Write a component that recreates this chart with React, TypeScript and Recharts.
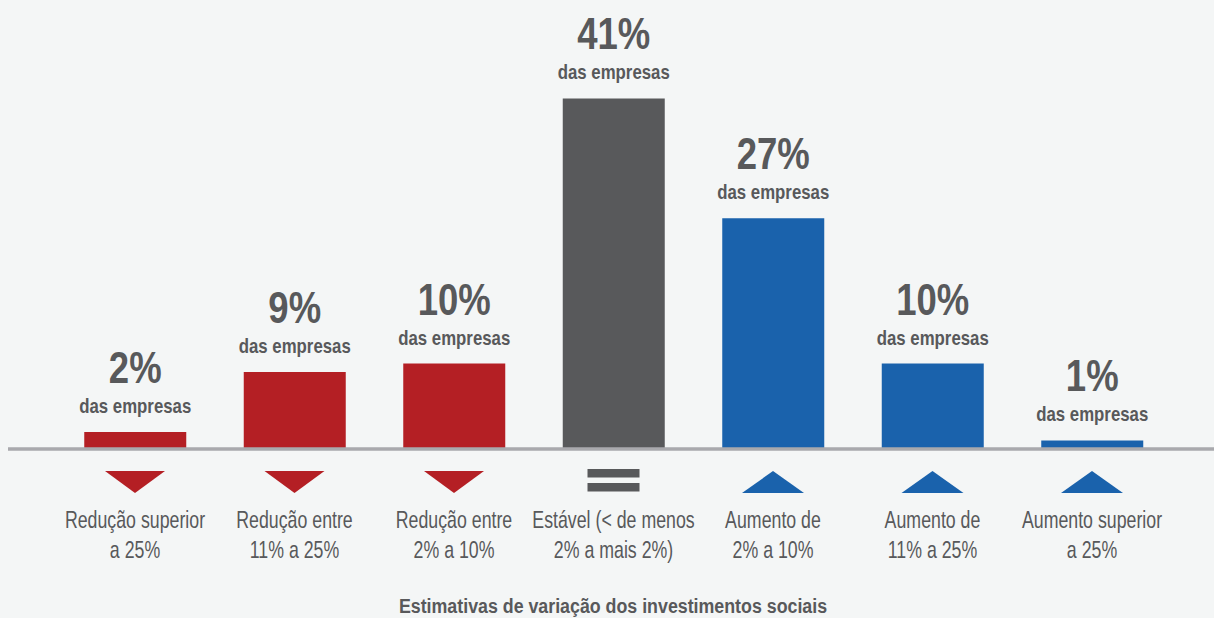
import React from 'react';
import { BarChart, Bar, XAxis, YAxis, Cell, LabelList } from 'recharts';

const categoryLine1 = ['Redução superior', 'Redução entre', 'Redução entre', 'Estável (< de menos', 'Aumento de', 'Aumento de', 'Aumento superior'];
const categoryLine2 = ['a 25%', '11% a 25%', '2% a 10%', '2% a mais 2%)', '2% a 10%', '11% a 25%', 'a 25%'];
const values = [2, 9, 10, 41, 27, 10, 1];
const valueLabels = ['2%', '9%', '10%', '41%', '27%', '10%', '1%'];
const subLabel = 'das empresas';
const directions = ['down', 'down', 'down', 'equal', 'up', 'up', 'up'];
const axisTitle = 'Estimativas de variação dos investimentos sociais';

const RED = '#b41f24';
const GRAY = '#58595b';
const BLUE = '#1a62ac';
const TEXT = '#58595b';
const BG = '#f4f6f6';
const FONT = "'Liberation Sans', Arial, sans-serif";

const colorFor = (d: string) => (d === 'down' ? RED : d === 'up' ? BLUE : GRAY);

const data = categoryLine1.map((c, i) => ({
  name: c + '|' + categoryLine2[i],
  value: values[i],
  label: valueLabels[i],
  dir: directions[i],
}));

const NarrowText = ({ x, y, sx, size, bold, children }: any) => (
  <text
    transform={`translate(${x},${y}) scale(${sx},1)`}
    x={0}
    y={0}
    textAnchor="middle"
    fill={TEXT}
    fontSize={size}
    fontWeight={bold ? 'bold' : 'normal'}
    fontFamily={FONT}
  >
    {children}
  </text>
);

const Tick = (props: any) => {
  const { x, y, payload, index } = props;
  const i = index ?? payload.index;
  const dir = directions[i];
  const [l1, l2] = String(payload.value).split('|');
  const color = colorFor(dir);
  let marker: React.ReactNode = null;
  if (dir === 'down') {
    marker = <polygon points={`${x - 30},${y + 22} ${x + 30},${y + 22} ${x},${y + 44}`} fill={color} />;
  } else if (dir === 'up') {
    marker = <polygon points={`${x - 31},${y + 44} ${x + 31},${y + 44} ${x},${y + 22}`} fill={color} />;
  } else {
    marker = (
      <g fill={color}>
        <rect x={x - 26} y={y + 20} width={52} height={8.5} />
        <rect x={x - 26} y={y + 34} width={52} height={8.5} />
      </g>
    );
  }
  return (
    <g>
      {marker}
      <NarrowText x={x} y={y + 79} sx={0.74} size={24}>{l1}</NarrowText>
      <NarrowText x={x} y={y + 109} sx={0.74} size={24}>{l2}</NarrowText>
    </g>
  );
};

const BarLabel = (props: any) => {
  const { x, y, width, index } = props;
  const cx = x + width / 2;
  return (
    <g>
      <NarrowText x={cx} y={y - 49} sx={0.83} size={44} bold>{valueLabels[index]}</NarrowText>
      <NarrowText x={cx} y={y - 19} sx={0.84} size={20} bold>{subLabel}</NarrowText>
    </g>
  );
};

const AxisTitle = () => (
  <NarrowText x={613} y={613} sx={0.89} size={20} bold>{axisTitle}</NarrowText>
);

export default function App() {
  return (
    <div style={{ width: 1214, height: 618, background: BG }}>
      <style>{`html,body{margin:0;padding:0;background:${BG};overflow:hidden}`}</style>
      <BarChart width={1214} height={618} data={data} margin={{ top: 21.5, right: 0, bottom: 0, left: 8 }}>
        <YAxis hide domain={[0, 50]} allowDataOverflow />
        <XAxis
          dataKey="name"
          height={169}
          interval={0}
          tickLine={false}
          tickSize={0}
          tickMargin={0}
          axisLine={{ stroke: '#a9a9ad', strokeWidth: 3.5 }}
          padding={{ left: 47.25, right: 42.25 }}
          tick={<Tick />}
          label={<AxisTitle />}
        />
        <Bar dataKey="value" barSize={102} isAnimationActive={false}>
          {data.map((d, i) => (
            <Cell key={i} fill={colorFor(d.dir)} />
          ))}
          <LabelList dataKey="label" content={<BarLabel />} />
        </Bar>
      </BarChart>
    </div>
  );
}
